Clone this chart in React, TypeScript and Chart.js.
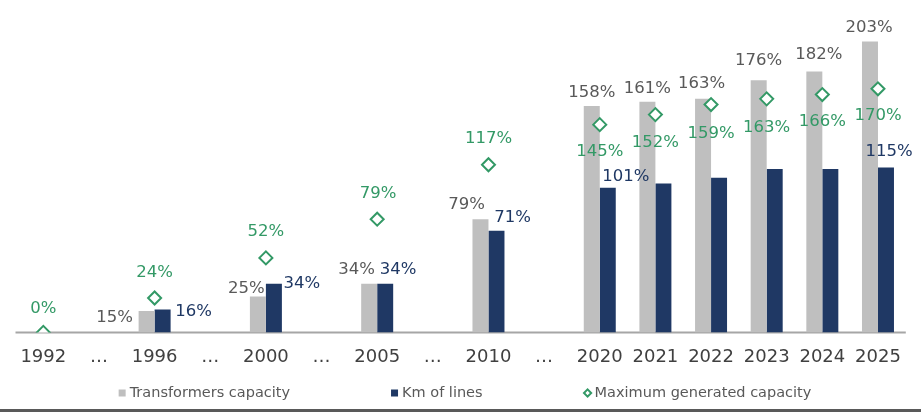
import React, { useEffect, useRef } from 'react';
import { Chart, registerables } from 'chart.js';

Chart.register(...registerables);

const categories = ['1992', '…', '1996', '…', '2000', '…', '2005', '…', '2010', '…', '2020', '2021', '2022', '2023', '2024', '2025'];
const transformersCapacity = [null, null, 15, null, 25, null, 34, null, 79, null, 158, 161, 163, 176, 182, 203];
const kmOfLines = [null, null, 16, null, 34, null, 34, null, 71, null, 101, 104, 108, 114, 114, 115];
const maxGeneratedCapacity = [0, null, 24, null, 52, null, 79, null, 117, null, 145, 152, 159, 163, 166, 170];
const seriesNames = ['Transformers capacity', 'Km of lines', 'Maximum generated capacity'];

// label placement: offset of label centre from the mark (null = label hidden)
const transformersLabelOffset = [null, null, [-32, 7], null, [-11.5, -8], null, [-12.5, -14], null, [-14, -14], null, [0, -13.5], [0, -12.7], [-1.5, -14.7], [0, -19], [4.5, -17], [-1, -13.5]];
const kmLabelOffset = [null, null, [31, 2.5], null, [28, 0], null, [13, -14], null, [16, -12.5], null, [18, -11], null, null, null, null, [3, -15.5]];
const maxCapLabelOffset = [[0, -24], null, [0, -25.5], null, [0, -26], null, [1, -25.5], null, [0, -26], null, [0, 27.5], [0, 28], [0, 29], [0, 29], [0, 27.5], [0, 27]];

const GRAY = '#BFBFBF';
const NAVY = '#1F3864';
const GREEN = '#339966';
const GRAY_TEXT = '#595959';
const AXIS = '#A6A6A6';
const TICK_TEXT = '#404040';
const FONT = '"DejaVu Sans", Verdana, sans-serif';

const offsetsByDataset: any[] = [transformersLabelOffset, kmLabelOffset, maxCapLabelOffset];
const labelColors = [GRAY_TEXT, NAVY, GREEN];

const customDraw = {
  id: 'customDraw',
  beforeDatasetsDraw(chart: any) {
    const { ctx, chartArea } = chart;
    const y0 = chart.scales.y.getPixelForValue(0);
    ctx.save();
    ctx.strokeStyle = AXIS;
    ctx.lineWidth = 2;
    ctx.beginPath();
    ctx.moveTo(chartArea.left, y0);
    ctx.lineTo(chartArea.right, y0);
    ctx.stroke();
    ctx.restore();
  },
  afterDatasetsDraw(chart: any) {
    const { ctx } = chart;
    ctx.save();
    ctx.font = `16.5px ${FONT}`;
    ctx.textAlign = 'center';
    ctx.textBaseline = 'middle';
    chart.data.datasets.forEach((ds: any, di: number) => {
      const meta = chart.getDatasetMeta(di);
      const offs = offsetsByDataset[di];
      meta.data.forEach((el: any, i: number) => {
        const v = ds.data[i];
        const off = offs[i];
        if (v === null || v === undefined || !off) return;
        ctx.fillStyle = labelColors[di];
        ctx.fillText(`${v}%`, el.x + off[0], el.y + off[1]);
      });
    });
    ctx.restore();
  },
  afterDraw(chart: any) {
    const { ctx, width } = chart;
    ctx.save();
    // legend
    ctx.font = `14.5px ${FONT}`;
    ctx.textBaseline = 'middle';
    ctx.textAlign = 'left';
    const gap = 101;
    const markerW = 11;
    const widths = seriesNames.map((n) => ctx.measureText(n).width);
    const total = widths.reduce((a, b) => a + b + markerW, 0) + gap * (seriesNames.length - 1);
    let x = 465 - total / 2;
    const ly = 393;
    seriesNames.forEach((name, i) => {
      if (i < 2) {
        ctx.fillStyle = i === 0 ? GRAY : NAVY;
        ctx.fillRect(x, ly - 3.5, 7, 7);
      } else {
        ctx.strokeStyle = GREEN;
        ctx.fillStyle = '#fff';
        ctx.lineWidth = 2;
        const cx = x + 4, r = 3.6;
        ctx.beginPath();
        ctx.moveTo(cx, ly - r);
        ctx.lineTo(cx + r, ly);
        ctx.lineTo(cx, ly + r);
        ctx.lineTo(cx - r, ly);
        ctx.closePath();
        ctx.fill();
        ctx.stroke();
      }
      ctx.fillStyle = GRAY_TEXT;
      ctx.fillText(name, x + markerW, ly);
      x += markerW + widths[i] + gap;
    });
    // bottom rule
    ctx.fillStyle = '#595959';
    ctx.fillRect(0, 409, width, 3);
    ctx.restore();
  },
};

export default function App() {
  const ref = useRef<HTMLCanvasElement | null>(null);
  useEffect(() => {
    if (!ref.current) return;
    const chart = new Chart(ref.current, {
      type: 'bar',
      data: {
        labels: categories,
        datasets: [
          {
            label: seriesNames[0],
            data: transformersCapacity as any,
            backgroundColor: GRAY,
            order: 1,
            categoryPercentage: 0.575,
            barPercentage: 1,
          },
          {
            label: seriesNames[1],
            data: kmOfLines as any,
            backgroundColor: NAVY,
            order: 2,
            categoryPercentage: 0.575,
            barPercentage: 1,
          },
          {
            type: 'line',
            label: seriesNames[2],
            data: maxGeneratedCapacity as any,
            order: 0,
            showLine: false,
            pointStyle: 'rectRot',
            pointRadius: 6.5,
            pointHoverRadius: 6.5,
            pointBorderWidth: 2,
            borderColor: GREEN,
            pointBorderColor: GREEN,
            pointBackgroundColor: '#ffffff',
            backgroundColor: '#ffffff',
          } as any,
        ],
      },
      options: {
        animation: false,
        responsive: true,
        maintainAspectRatio: false,
        layout: { padding: { left: 15.5, right: 15.2, top: 31.5, bottom: 32 } },
        plugins: { legend: { display: false }, tooltip: { enabled: false } },
        scales: {
          x: {
            grid: { display: false, drawTicks: false },
            border: { display: false },
            ticks: {
              autoSkip: false,
              maxRotation: 0,
              minRotation: 0,
              padding: 14.5,
              color: TICK_TEXT,
              font: { family: FONT, size: 18 },
            },
          },
          y: { display: false, min: 0, max: 210 },
        },
      },
      plugins: [customDraw],
    });
    return () => chart.destroy();
  }, []);
  return (
    <div style={{ position: 'absolute', left: 0, top: 0, width: 921, height: 415, background: '#fff' }}>
      <canvas ref={ref} />
    </div>
  );
}
